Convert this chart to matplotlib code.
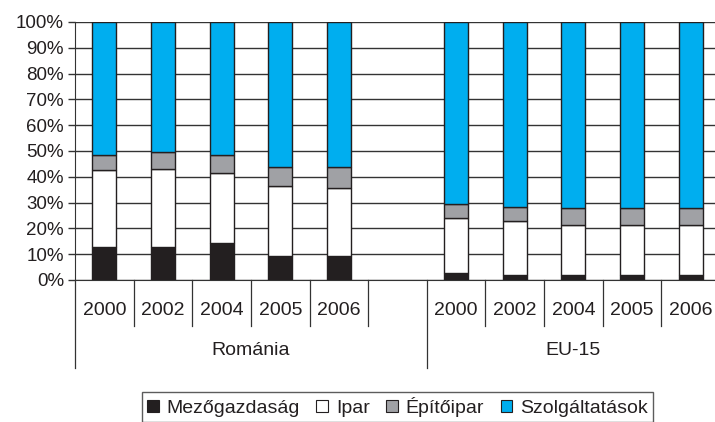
import matplotlib
matplotlib.use("Agg")
import matplotlib.pyplot as plt
from matplotlib.patches import Patch
from matplotlib.ticker import FuncFormatter
import numpy as np

plt.rcParams['font.family'] = ['Liberation Sans', 'DejaVu Sans']

years = ["2000", "2002", "2004", "2005", "2006"]
groups = ["Románia", "EU-15"]
series_names = ["Mezőgazdaság", "Ipar", "Építőipar", "Szolgáltatások"]

ro_agri = [12.7, 12.7, 14.5, 9.4, 9.4]
ro_ind = [29.9, 30.5, 27.0, 26.9, 26.3]
ro_constr = [5.7, 6.3, 6.8, 7.6, 8.2]
eu_agri = [2.6, 1.8, 1.8, 1.8, 1.8]
eu_ind = [21.4, 20.9, 19.6, 19.6, 19.6]
eu_constr = [5.6, 5.7, 6.4, 6.4, 6.4]

colors = ["#231f20", "#ffffff", "#a0a1a5", "#00aeef"]
edge = "#231f20"
txt = "#231f20"

fig = plt.figure(figsize=(7.15, 4.22), dpi=100)
ax = fig.add_axes([0.105, 0.3365, 0.902, 0.6115])

ro_serv = [100 - a - b - c for a, b, c in zip(ro_agri, ro_ind, ro_constr)]
eu_serv = [100 - a - b - c for a, b, c in zip(eu_agri, eu_ind, eu_constr)]
ro = [ro_agri, ro_ind, ro_constr, ro_serv]
eu = [eu_agri, eu_ind, eu_constr, eu_serv]

x_ro = np.arange(5)
x_eu = np.arange(6, 11)
w = 0.41
for xs, data in ((x_ro, ro), (x_eu, eu)):
    bottom = np.zeros(5)
    for vals, col in zip(data, colors):
        ax.bar(xs, vals, w, bottom=bottom, color=col, edgecolor=edge, linewidth=1.0, zorder=3)
        bottom += np.array(vals)

ax.set_xlim(-0.5, 10.5)
ax.set_ylim(0, 100)
ax.set_yticks(np.arange(0, 101, 10))
ax.yaxis.set_major_formatter(FuncFormatter(lambda v, p: f"{int(v)}%"))
ax.yaxis.grid(True, color="#333333", linewidth=1.0, zorder=0)
ax.tick_params(axis='y', direction='out', length=5, width=1, labelsize=13.5, pad=3,
               color="#333333", labelcolor=txt)
ax.set_xticks([])
for s in ["top", "right"]:
    ax.spines[s].set_visible(False)
ax.spines["left"].set_color("#333333")
ax.spines["bottom"].set_color("#333333")

trans = ax.get_xaxis_transform()
year_seps = [0.5, 1.5, 2.5, 3.5, 4.5, 6.5, 7.5, 8.5, 9.5]
for b in year_seps:
    ax.plot([b, b], [0, -0.178], transform=trans, color="#333333", lw=0.9, clip_on=False)
for b in [-0.5, 5.5, 10.5]:
    ax.plot([b, b], [0, -0.341], transform=trans, color="#333333", lw=0.9, clip_on=False)

for xs in (x_ro, x_eu):
    for xi, yr in zip(xs, years):
        ax.text(xi, -0.118, yr, transform=trans, ha="center", va="center", fontsize=14, color=txt)
ax.text(2.5, -0.275, groups[0], transform=trans, ha="center", va="center", fontsize=14, color=txt)
ax.text(8.0, -0.275, groups[1], transform=trans, ha="center", va="center", fontsize=14, color=txt)

handles = [Patch(facecolor=c, edgecolor=edge, linewidth=0.8) for c in colors]
leg = fig.legend(handles, series_names, loc="center", bbox_to_anchor=(0.556, 0.036), ncol=4,
                 frameon=True, fancybox=False, edgecolor="#333333", fontsize=14,
                 handlelength=0.6, handleheight=0.6, handletextpad=0.4, columnspacing=0.85,
                 borderpad=0.25, borderaxespad=0)
leg.get_frame().set_linewidth(1.0)
for t in leg.get_texts():
    t.set_color(txt)

fig.savefig("out.png", dpi=100)
